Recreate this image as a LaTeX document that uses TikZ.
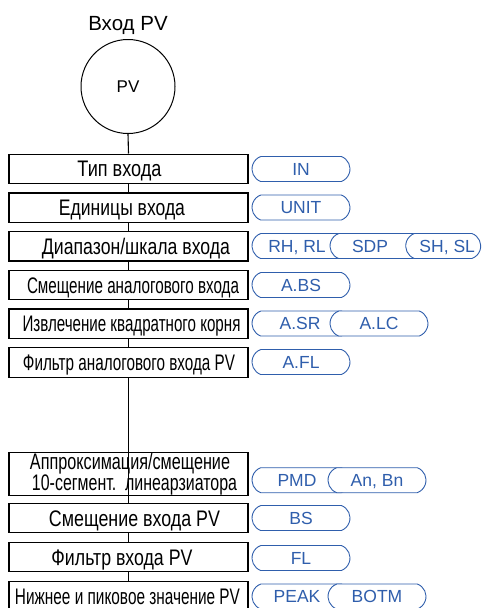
\documentclass[tikz,border=0pt]{standalone}
\usepackage{fontspec}
\usepackage{graphicx}
\setmainfont{Liberation Sans}
\newfontfamily\narrowfont[FakeStretch=0.8]{Liberation Sans}
\usetikzlibrary{shapes.misc,backgrounds}
\definecolor{tagblue}{RGB}{47,94,172}
\newcommand\bxt[2]{\resizebox{#1}{\height}{#2}}
\begin{document}
\begin{tikzpicture}[x=1pt,y=-1pt,
  boxbase/.style={draw=black, line width=1.3pt, fill=white, minimum width=239pt,
    minimum height=29.5pt, inner sep=0pt, font=\narrowfont\fontsize{22.5}{16.6}\selectfont},
  box/.style={boxbase, text height=16.1pt, text depth=0pt},
  tag/.style={draw=tagblue, line width=0.9pt, fill=white, rounded rectangle,
    rounded rectangle arc length=140, minimum width=98pt, minimum height=25pt,
    inner sep=0pt, text=tagblue, font=\fontsize{17.5}{17.5}\selectfont,
    text height=12.5pt, text depth=0pt},
  link/.style={draw=black, line width=1.1pt}]
\useasboundingbox (0,0) rectangle (485,608);
\clip (0,0) rectangle (485,608);
% title and source
\node[font=\fontsize{20.5}{20}\selectfont, anchor=base, inner sep=0pt] (title) at (128,30.5) {Вход PV};
\node[circle, draw, line width=1pt, minimum size=94pt, inner sep=0pt,
  font=\fontsize{17}{17}\selectfont, text height=12.2pt, text depth=0pt] (pv) at (128,86.5) {PV};
% boxes
\node[box] (b1) at (128.5,168.9) {\hspace*{-18pt}\bxt{84pt}{Тип входа}};
\node[box] (b2) at (128.5,207.6) {\hspace*{-13pt}\bxt{126pt}{Единицы входа}};
\node[box] (b3) at (128.5,246.3) {\hspace*{15pt}\bxt{188pt}{Диапазон/шкала входа}};
\node[box] (b4) at (128.5,285.0) {\hspace*{9pt}\bxt{212pt}{Смещение аналогового входа}};
\node[box] (b5) at (128.5,323.7) {\hspace*{6pt}\bxt{218pt}{Извлечение квадратного корня}};
\node[box] (b6) at (128.5,362.4) {\hspace*{1pt}\bxt{212pt}{Фильтр аналогового входа PV}};
\node[boxbase, fill=none, minimum height=40pt, align=center] (b7) at (128.5,474)
  {\hspace*{3pt}\bxt{200pt}{Аппроксимация/смещение}\\\hspace*{12pt}\bxt{205pt}{10-сегмент.\ \ линеарзиатора}};
\node[box] (b8) at (128.5,518) {\hspace*{12pt}\bxt{171pt}{Смещение входа PV}};
\node[box] (b9) at (128.5,557) {\hspace*{-13pt}\bxt{141pt}{Фильтр входа PV}};
\node[box] (b10) at (128.5,596) {\hspace*{-2pt}\bxt{225pt}{Нижнее и пиковое значение PV}};
% connectors
\begin{scope}[on background layer]
\draw[link] (pv.south) -- (b1.north);
\draw[link] (b1.south) -- (b2.north);
\draw[link] (b2.south) -- (b3.north);
\draw[link] (b3.south) -- (b4.north);
\draw[link] (b4.south) -- (b5.north);
\draw[link] (b5.south) -- (b6.north);
\draw[link] (b6.south) -- (b8.north);
\draw[link] (b8.south) -- (b9.north);
\draw[link] (b9.south) -- (b10.north);
\end{scope}
% tags
\node[tag] (in) at (301,169) {IN};
\node[tag] (unit) at (301,207.5) {UNIT};
\node[tag] (rh) at (301,246) {\hspace*{-8pt}RH, RL};
\node[tag] (sdp) at (379,246) {\hspace*{-18pt}SDP};
\node[tag, minimum width=75pt] (sh) at (443.2,246) {\hspace*{8pt}SH, SL};
\node[tag] (abs) at (301,285) {A.BS};
\node[tag] (asr) at (301,323.5) {\hspace*{-2pt}A.SR};
\node[tag] (alc) at (379,323.5) {A.LC};
\node[tag] (afl) at (301,362) {A.FL};
\node[tag] (pmd) at (301,480.2) {\hspace*{-8pt}PMD};
\node[tag] (anbn) at (377,480.2) {An, Bn};
\node[tag] (bs) at (301,518) {BS};
\node[tag] (fl) at (301,558) {FL};
\node[tag] (peak) at (301,596.5) {\hspace*{-8pt}PEAK};
\node[tag] (botm) at (377,596.5) {BOTM};
\end{tikzpicture}
\end{document}
